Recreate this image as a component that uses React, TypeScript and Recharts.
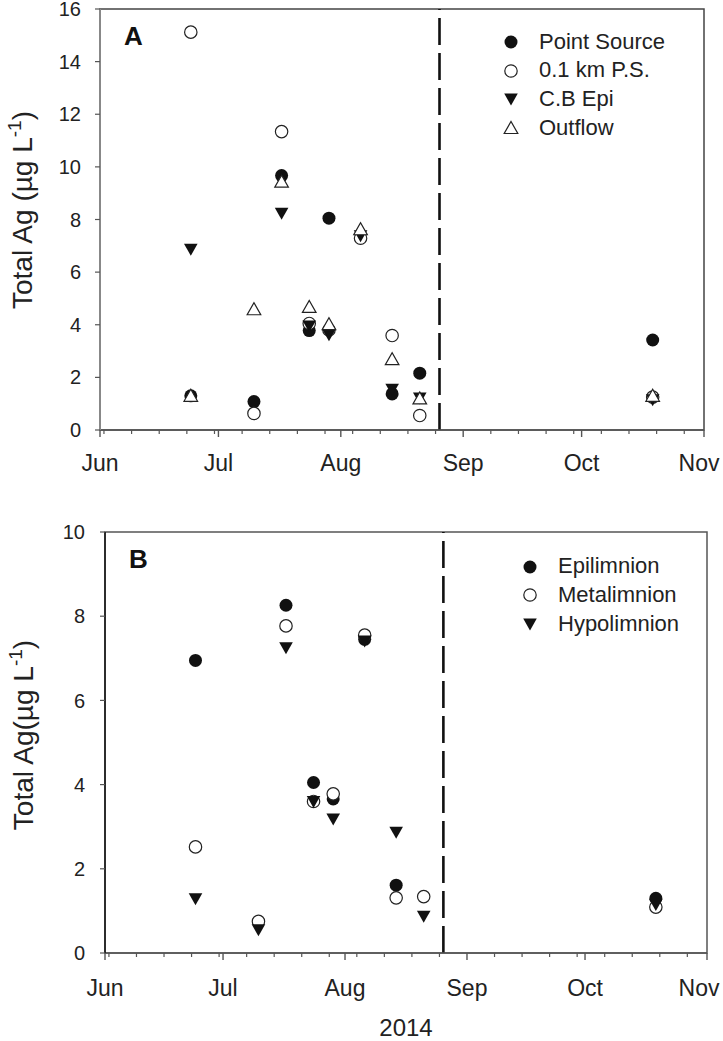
import React from "react";
import {
  ScatterChart,
  Scatter,
  XAxis,
  YAxis,
  ReferenceLine,
  ReferenceArea,
} from "recharts";

// sampling dates (2014)
const datesA = ["2014-06-24", "2014-07-10", "2014-07-17", "2014-07-24", "2014-07-29", "2014-08-06", "2014-08-14", "2014-08-21", "2014-10-19"];
const pointSource = [1.3, 1.08, 9.67, 3.78, 8.05, null, 1.37, 2.16, 3.42];
const ps01km = [15.12, 0.63, 11.34, 4.05, 3.8, 7.29, 3.59, 0.55, 1.25];
const cbEpi = [6.87, null, 8.24, 3.95, 3.62, 7.38, 1.55, 1.22, 1.15];
const outflow = [1.3, 4.59, 9.44, 4.68, 4.02, 7.63, 2.69, 1.2, 1.3];

const datesB = ["2014-06-24", "2014-07-10", "2014-07-17", "2014-07-24", "2014-07-29", "2014-08-06", "2014-08-14", "2014-08-21", "2014-10-19"];
const epilimnion = [6.95, null, 8.26, 4.05, 3.66, 7.45, 1.61, null, 1.3];
const metalimnion = [2.52, 0.75, 7.77, 3.6, 3.78, 7.55, 1.31, 1.34, 1.09];
const hypolimnion = [1.29, 0.55, 7.25, 3.6, 3.18, 7.41, 2.87, 0.87, 1.15];

const cutoffDate = "2014-08-26";

const monthStarts = ["2014-06-01", "2014-07-01", "2014-08-01", "2014-09-01", "2014-10-01", "2014-11-01"];
const monthLabels = ["Jun", "Jul", "Aug", "Sep", "Oct", "Nov"];
const mondays = [
  "2014-06-02", "2014-06-09", "2014-06-16", "2014-06-23", "2014-06-30",
  "2014-07-07", "2014-07-14", "2014-07-21", "2014-07-28",
  "2014-08-04", "2014-08-11", "2014-08-18", "2014-08-25",
  "2014-09-08", "2014-09-15", "2014-09-22", "2014-09-29",
  "2014-10-06", "2014-10-13", "2014-10-20", "2014-10-27",
];
const yTicksA = [0, 2, 4, 6, 8, 10, 12, 14, 16];
const yTicksB = [0, 2, 4, 6, 8, 10];

const FONT = '"Liberation Sans", Arial, Helvetica, sans-serif';
const AXIS = "#555";

const toDay = (d: string) => {
  const [y, m, dd] = d.split("-").map(Number);
  return (Date.UTC(y, m - 1, dd) - Date.UTC(2014, 5, 1)) / 86400000;
};

const series = (dates: string[], vals: (number | null)[]) =>
  dates
    .map((d, i) => ({ day: toDay(d), value: vals[i] }))
    .filter((p) => p.value !== null);

const monthDays = monthStarts.map(toDay);
const xTicks = [...monthDays, ...mondays.map(toDay)].sort((a, b) => a - b);
const xDomain = [monthDays[0], monthDays[monthDays.length - 1]];

// markers
const FilledCircle = ({ cx, cy }: any) => <circle cx={cx} cy={cy} r={6.5} fill="#111" />;
const OpenCircle = ({ cx, cy }: any) => (
  <circle cx={cx} cy={cy} r={6.2} fill="#fff" stroke="#222" strokeWidth={1.2} />
);
const DownTri = ({ cx, cy }: any) => (
  <polygon points={`${cx - 6.8},${cy - 5.5} ${cx + 6.8},${cy - 5.5} ${cx},${cy + 6.5}`} fill="#111" />
);
const UpTri = ({ cx, cy }: any) => (
  <polygon
    points={`${cx - 6.8},${cy + 5.5} ${cx + 6.8},${cy + 5.5} ${cx},${cy - 6.5}`}
    fill="#fff"
    stroke="#222"
    strokeWidth={1.2}
  />
);

const MonthTick = ({ x, y, payload, labelGap }: any) => {
  const idx = monthDays.indexOf(payload.value);
  if (idx < 0) return <line x1={x} y1={y} x2={x} y2={y + 4} stroke={AXIS} strokeWidth={1.2} />;
  // keep the last label inside the page, as in the original
  const tx = Math.min(x, 699);
  return (
    <g>
      <line x1={x} y1={y} x2={x} y2={y + 7} stroke={AXIS} strokeWidth={1.4} />
      <text x={tx} y={y + labelGap} textAnchor="middle" fontSize={23} fill="#222" fontFamily={FONT}>
        {monthLabels[idx]}
      </text>
    </g>
  );
};

const YLabel = ({ x, y, text }: { x: number; y: number; text: string }) => (
  <text
    transform={`translate(${x},${y}) rotate(-90)`}
    textAnchor="middle"
    fontSize={28}
    fill="#222"
    fontFamily={FONT}
  >
    {text}
    <tspan fontSize={19} dy={-11}>-1</tspan>
    <tspan dy={11}>)</tspan>
  </text>
);

// legend drawn as an overlay so it takes no room from the plot
const LegendBox = ({ items, left, top }: { items: { name: string; Icon: any }[]; left: number; top: number }) => (
  <div style={{ position: "absolute", left, top, fontFamily: FONT, fontSize: 22, color: "#222" }}>
    {items.map(({ name, Icon }) => (
      <div key={name} style={{ display: "flex", alignItems: "center", height: 28.7 }}>
        <svg width={22} height={22} style={{ marginRight: 17 }}>
          <Icon cx={11} cy={11} />
        </svg>
        <span style={{ lineHeight: "28.7px", whiteSpace: "nowrap" }}>{name}</span>
      </div>
    ))}
  </div>
);

const legendA = [
  { name: "Point Source", Icon: FilledCircle },
  { name: "0.1 km P.S.", Icon: OpenCircle },
  { name: "C.B Epi", Icon: DownTri },
  { name: "Outflow", Icon: UpTri },
];
const legendB = [
  { name: "Epilimnion", Icon: FilledCircle },
  { name: "Metalimnion", Icon: OpenCircle },
  { name: "Hypolimnion", Icon: DownTri },
];

const PanelLetter = (letter: string) => (p: any) => (
  <text
    x={p.viewBox.x + 24}
    y={p.viewBox.y + 36}
    fontSize={26}
    fontWeight="bold"
    fill="#111"
    fontFamily={FONT}
  >
    {letter}
  </text>
);

export default function App() {
  return (
    <div style={{ position: "absolute", left: 0, top: 0, width: 723, height: 1041, background: "#fff" }}>
      <div style={{ position: "absolute", left: 0, top: 0 }}>
        <ScatterChart width={723} height={480} margin={{ top: 9, right: 19, bottom: 0, left: 0 }}>
          <XAxis
            dataKey="day"
            type="number"
            domain={xDomain}
            ticks={xTicks}
            interval={0}
            tickSize={0}
            tickMargin={0}
            height={50}
            axisLine={{ stroke: AXIS, strokeWidth: 1.5 }}
            tick={(p: any) => <MonthTick {...p} labelGap={41} />}
          />
          <YAxis
            dataKey="value"
            type="number"
            domain={[0, 16]}
            ticks={yTicksA}
            interval={0}
            width={100}
            tickSize={5}
            tickMargin={14}
            axisLine={{ stroke: "#888", strokeWidth: 2 }}
            tickLine={{ stroke: AXIS, strokeWidth: 1.2 }}
            tick={{ fontSize: 20, fill: "#222", fontFamily: FONT }}
            label={() => <YLabel x={32} y={210} text="Total Ag (µg L" />}
          />
          <ReferenceArea
            x1={xDomain[0]}
            x2={xDomain[1]}
            y1={0}
            y2={16}
            fill="none"
            stroke="#444"
            strokeWidth={1.5}
            label={PanelLetter("A")}
          />
          <ReferenceLine x={toDay(cutoffDate)} stroke="#111" strokeWidth={2.6} strokeDasharray="27 8" />
          <Scatter name="Point Source" data={series(datesA, pointSource)} shape={FilledCircle} isAnimationActive={false} />
          <Scatter name="0.1 km P.S." data={series(datesA, ps01km)} shape={OpenCircle} isAnimationActive={false} />
          <Scatter name="C.B Epi" data={series(datesA, cbEpi)} shape={DownTri} isAnimationActive={false} />
          <Scatter name="Outflow" data={series(datesA, outflow)} shape={UpTri} isAnimationActive={false} />
        </ScatterChart>
        <LegendBox items={legendA} left={500} top={27.6} />
      </div>
      <div style={{ position: "absolute", left: 0, top: 480 }}>
        <ScatterChart width={723} height={561} margin={{ top: 52, right: 16, bottom: 0, left: 0 }}>
          <XAxis
            dataKey="day"
            type="number"
            domain={xDomain}
            ticks={xTicks}
            interval={0}
            tickSize={0}
            tickMargin={0}
            height={88}
            axisLine={{ stroke: AXIS, strokeWidth: 1.5 }}
            tick={(p: any) => <MonthTick {...p} labelGap={43} />}
            label={() => (
              <text x={406} y={556} textAnchor="middle" fontSize={24} fill="#222" fontFamily={FONT}>
                2014
              </text>
            )}
          />
          <YAxis
            dataKey="value"
            type="number"
            domain={[0, 10]}
            ticks={yTicksB}
            interval={0}
            width={105}
            tickSize={5}
            tickMargin={15}
            axisLine={{ stroke: "#111", strokeWidth: 1.5 }}
            tickLine={{ stroke: AXIS, strokeWidth: 1.2 }}
            tick={{ fontSize: 20, fill: "#222", fontFamily: FONT }}
            label={() => <YLabel x={33} y={255} text="Total Ag(µg L" />}
          />
          <ReferenceArea
            x1={xDomain[0]}
            x2={xDomain[1]}
            y1={0}
            y2={10}
            fill="none"
            stroke="#555"
            strokeWidth={1.5}
            label={PanelLetter("B")}
          />
          <ReferenceLine x={toDay(cutoffDate)} stroke="#111" strokeWidth={2.6} strokeDasharray="27 8" />
          <Scatter name="Epilimnion" data={series(datesB, epilimnion)} shape={FilledCircle} isAnimationActive={false} />
          <Scatter name="Metalimnion" data={series(datesB, metalimnion)} shape={OpenCircle} isAnimationActive={false} />
          <Scatter name="Hypolimnion" data={series(datesB, hypolimnion)} shape={DownTri} isAnimationActive={false} />
        </ScatterChart>
        <LegendBox items={legendB} left={519} top={72.3} />
      </div>
    </div>
  );
}
